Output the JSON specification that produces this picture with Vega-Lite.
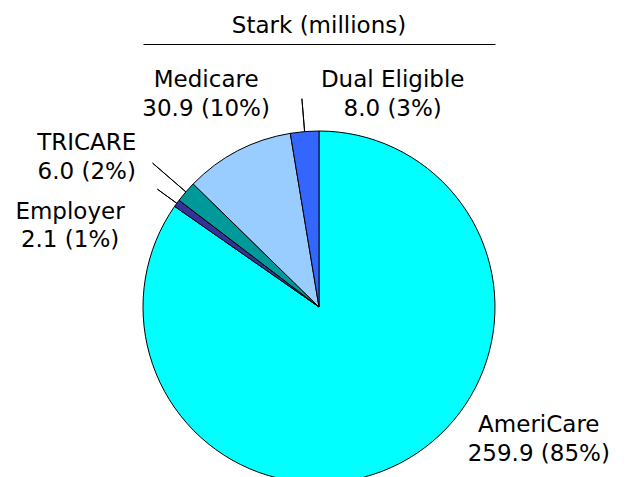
{
  "$schema": "https://vega.github.io/schema/vega-lite/v6.json",
  "width": 352,
  "height": 340,
  "autosize": {"type": "none"},
  "padding": {"left": 143, "top": 137, "right": 133, "bottom": 0},
  "background": "white",
  "title": {"text": "Stark (millions)", "font": "DejaVu Sans", "fontSize": 23, "fontWeight": "normal", "color": "black", "anchor": "middle", "baseline": "alphabetic", "offset": -12},
  "config": {"view": {"stroke": null}, "font": "DejaVu Sans"},
  "data": {"values": [
    {"cat": "AmeriCare", "value": 259.9, "order": 1},
    {"cat": "Employer", "value": 2.1, "order": 2},
    {"cat": "TRICARE", "value": 6.0, "order": 3},
    {"cat": "Medicare", "value": 30.9, "order": 4},
    {"cat": "Dual Eligible", "value": 8.0, "order": 5}
  ]},
  "transform": [
    {"window": [{"op": "sum", "field": "value", "as": "cum"}], "sort": [{"field": "order"}], "frame": [null, 0]},
    {"joinaggregate": [{"op": "sum", "field": "value", "as": "total"}]},
    {"calculate": "2*PI*(datum.cum - datum.value)/datum.total", "as": "t0"},
    {"calculate": "2*PI*datum.cum/datum.total", "as": "t1"},
    {"calculate": "(datum.t0 + datum.t1)/2", "as": "mid"},
    {"calculate": "datum.cat + '\\n' + format(datum.value, '.1f') + ' (' + format(datum.value/datum.total, '.0%') + ')'", "as": "label"}
  ],
  "layer": [
    {
      "mark": {"type": "point", "opacity": 0},
      "encoding": {
        "x": {"field": "value", "type": "quantitative",
          "axis": {"orient": "top", "offset": 93, "domain": true, "domainColor": "black", "domainWidth": 1, "ticks": false, "labels": false, "grid": false, "title": null}}
      }
    },
    {
      "mark": {"type": "arc", "outerRadius": 176, "stroke": "black", "strokeWidth": 1},
      "encoding": {
        "theta": {"field": "t0", "type": "quantitative", "scale": null, "stack": null},
        "theta2": {"field": "t1"},
        "color": {"field": "cat", "type": "nominal", "legend": null,
          "scale": {"domain": ["AmeriCare", "Employer", "TRICARE", "Medicare", "Dual Eligible"],
                    "range": ["#00FFFF", "#333399", "#009999", "#99CCFF", "#3366FF"]}}
      }
    },
    {
      "transform": [{"filter": "datum.cat === 'TRICARE'"}],
      "mark": {"type": "arc", "innerRadius": 176, "outerRadius": 220, "filled": false, "stroke": "black", "strokeWidth": 1},
      "encoding": {"theta": {"field": "mid", "type": "quantitative", "scale": null, "stack": null}, "theta2": {"field": "mid"}}
    },
    {
      "transform": [{"filter": "datum.cat === 'Employer'"}],
      "mark": {"type": "arc", "innerRadius": 176, "outerRadius": 200, "filled": false, "stroke": "black", "strokeWidth": 1},
      "encoding": {"theta": {"field": "mid", "type": "quantitative", "scale": null, "stack": null}, "theta2": {"field": "mid"}}
    },
    {
      "transform": [{"filter": "datum.cat === 'Dual Eligible'"}],
      "mark": {"type": "arc", "innerRadius": 176, "outerRadius": 209, "filled": false, "stroke": "black", "strokeWidth": 1},
      "encoding": {"theta": {"field": "mid", "type": "quantitative", "scale": null, "stack": null}, "theta2": {"field": "mid"}}
    },
    {
      "transform": [{"filter": "datum.cat === 'AmeriCare'"}],
      "mark": {"type": "text", "radius": 220, "dx": 118, "dy": -77, "align": "center", "baseline": "middle", "lineBreak": "\n", "lineHeight": 29, "fontSize": 23, "font": "DejaVu Sans", "color": "black"},
      "encoding": {"theta": {"field": "mid", "type": "quantitative", "scale": null, "stack": null}, "text": {"field": "label"}}
    },
    {
      "transform": [{"filter": "datum.cat === 'Medicare'"}],
      "mark": {"type": "text", "radius": 240, "dx": -2, "dy": -14, "align": "center", "baseline": "middle", "lineBreak": "\n", "lineHeight": 29, "fontSize": 23, "font": "DejaVu Sans", "color": "black"},
      "encoding": {"theta": {"field": "mid", "type": "quantitative", "scale": null, "stack": null}, "text": {"field": "label"}}
    },
    {
      "transform": [{"filter": "datum.cat === 'Dual Eligible'"}],
      "mark": {"type": "text", "radius": 212, "dx": 91, "dy": -16, "align": "center", "baseline": "middle", "lineBreak": "\n", "lineHeight": 29, "fontSize": 23, "font": "DejaVu Sans", "color": "black"},
      "encoding": {"theta": {"field": "mid", "type": "quantitative", "scale": null, "stack": null}, "text": {"field": "label"}}
    },
    {
      "transform": [{"filter": "datum.cat === 'TRICARE'"}],
      "mark": {"type": "text", "radius": 270, "dx": -28, "dy": 13, "align": "center", "baseline": "middle", "lineBreak": "\n", "lineHeight": 29, "fontSize": 23, "font": "DejaVu Sans", "color": "black"},
      "encoding": {"theta": {"field": "mid", "type": "quantitative", "scale": null, "stack": null}, "text": {"field": "label"}}
    },
    {
      "transform": [{"filter": "datum.cat === 'Employer'"}],
      "mark": {"type": "text", "radius": 245, "dx": -51, "dy": 49, "align": "center", "baseline": "middle", "lineBreak": "\n", "lineHeight": 28, "fontSize": 23, "font": "DejaVu Sans", "color": "black"},
      "encoding": {"theta": {"field": "mid", "type": "quantitative", "scale": null, "stack": null}, "text": {"field": "label"}}
    }
  ]
}
